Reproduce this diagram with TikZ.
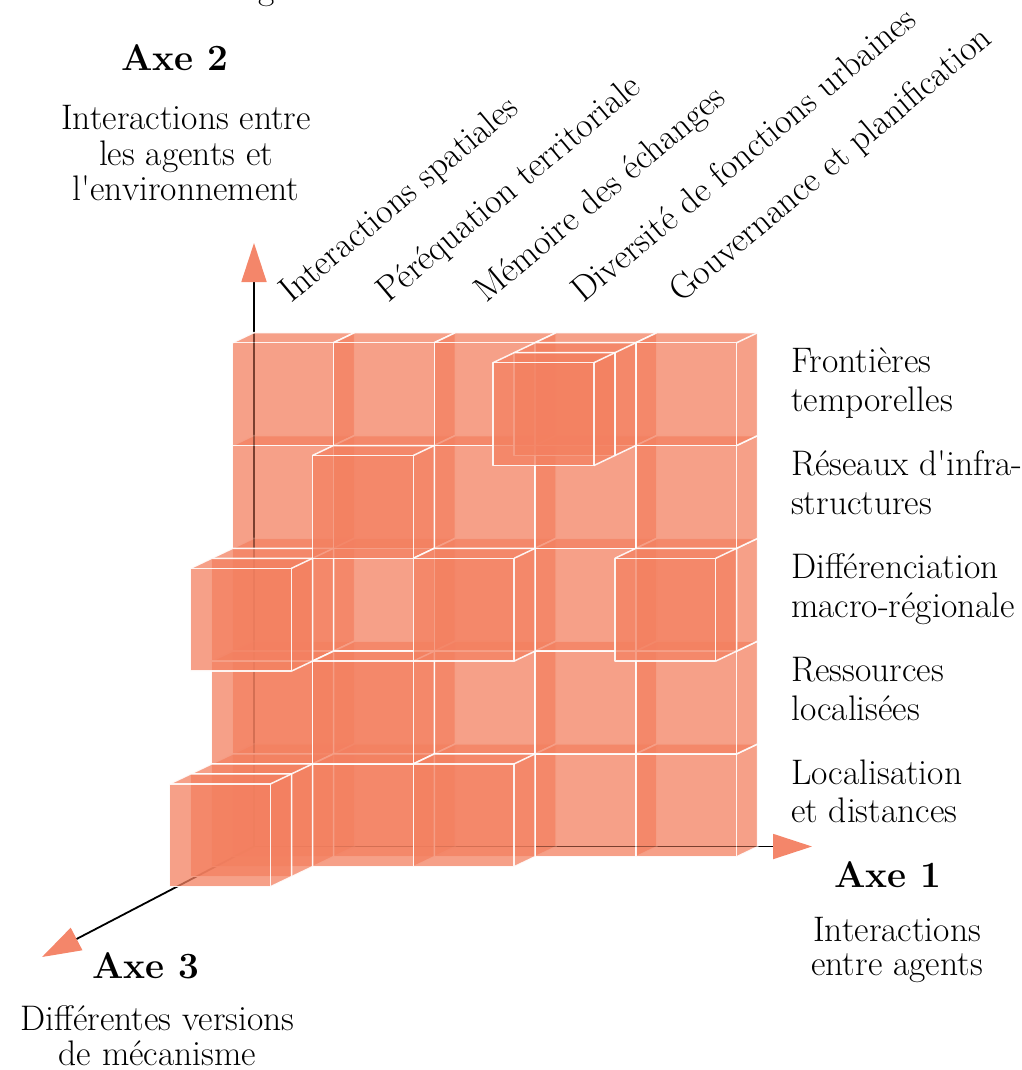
\documentclass[tikz,border=0pt]{standalone}
\usepackage{fontspec}
\usetikzlibrary{arrows.meta}
\definecolor{cubefill}{RGB}{243,128,96}
\definecolor{tipfill}{RGB}{244,134,106}
\tikzset{
  lbl/.style={inner sep=0pt, font=\fontsize{35.5}{38}\selectfont},
  axettl/.style={inner sep=0pt, font=\fontsize{37}{40}\selectfont\bfseries},
  cubebody/.style={fill=cubefill, fill opacity=0.75, draw=none},
  cubeedge/.style={draw=white, draw opacity=0.9, line width=1.5pt, line join=round},
  axisline/.style={line width=1.8pt, black, -{Triangle[length=39pt,width=25pt,color=tipfill]}},
  axisghost/.style={line width=1.8pt, black, opacity=0.33},
}
\newcommand\mycube[3]{%
  \begin{scope}[shift={({253.7+100.8*#1-21*#3},{846.7-102.8*(#2+1)+10*#3})}]
    \fill[cubebody] (0,102.8) -- (100.8,102.8) -- (121.8,92.8) -- (121.8,-10) -- (21,-10) -- (0,0) -- cycle;
    \draw[cubeedge] (0,0) rectangle (100.8,102.8);
    \draw[cubeedge] (0,0) -- (21,-10) -- (121.8,-10) -- (121.8,92.8) -- (100.8,102.8);
    \draw[cubeedge] (100.8,0) -- (121.8,-10);
  \end{scope}}
\begin{document}
\begin{tikzpicture}[x=1pt,y=-1pt]
\useasboundingbox (0,0) rectangle (1021,1070);
% axes
\coordinate (O) at (254,846.5);
\coordinate (E1) at (812,846.5);
\coordinate (E2) at (254,243);
\coordinate (E3) at (42,957);
\coordinate (G1) at (758,846.5);
\coordinate (G2) at (254,333.5);
\draw[axisline] (O) -- (E1);
\draw[axisline] (O) -- (E2);
\draw[axisline] (O) -- (E3);
% back layer of cubes
\foreach \cx/\cy in {
  0/0,0/1,0/2,0/3,0/4,
  1/0,1/1,1/2,1/3,1/4,
  2/0,2/1,2/2,2/3,2/4,
  3/0,3/1,3/2,3/3,3/4,
  4/0,4/1,4/2,4/3,4/4}{\mycube{\cx}{\cy}{1}}
% axes seen through the front faces of the back layer
\draw[axisghost] (O) -- (G1);
\draw[axisghost] (O) -- (G2);
% protruding cubes, back to front
\foreach \cx/\cy/\ck in {
  0/0/2,0/1/2,0/2/2,1/0/2,1/1/2,1/3/2,2/0/2,2/2/2,3/4/2,4/2/2,
  0/0/3,0/2/3,3/4/3,
  0/0/4}{\mycube{\cx}{\cy}{\ck}}
% cut-off letter at top
\node[lbl, anchor=base] (gtop) at (267,0) {g};
% Axe 2
\node[axettl, anchor=base] (ax2) at (175,70.7) {Axe 2};
\node[lbl, anchor=base] (ax2a) at (186,130) {Interactions entre};
\node[lbl, anchor=base] (ax2b) at (186,165) {les agents et};
\node[lbl, anchor=base] (ax2c) at (186,200) {l\textquotesingle environnement};
% column labels
\node[lbl, anchor=base west, rotate=40] (c1) at (291,304) {Interactions spatiales};
\node[lbl, anchor=base west, rotate=40] (c2) at (388.5,304) {Péréquation territoriale};
\node[lbl, anchor=base west, rotate=40] (c3) at (486,304) {Mémoire des échanges};
\node[lbl, anchor=base west, rotate=40] (c4) at (583.5,304) {Diversité de fonctions urbaines};
\node[lbl, anchor=base west, rotate=40] (c5) at (681,304) {Gouvernance et planification};
% row labels
\node[lbl, anchor=base west] (r5a) at (791,372) {Frontières};
\node[lbl, anchor=base west] (r5b) at (791,411) {temporelles};
\node[lbl, anchor=base west] (r4a) at (791,475) {Réseaux d\textquotesingle infra-};
\node[lbl, anchor=base west] (r4b) at (791,514) {structures};
\node[lbl, anchor=base west] (r3a) at (791,578) {Différenciation};
\node[lbl, anchor=base west] (r3b) at (791,617) {macro-régionale};
\node[lbl, anchor=base west] (r2a) at (791,681) {Ressources};
\node[lbl, anchor=base west] (r2b) at (791,720) {localisées};
\node[lbl, anchor=base west] (r1a) at (791,784) {Localisation};
\node[lbl, anchor=base west] (r1b) at (791,822) {et distances};
% Axe 1
\node[axettl, anchor=base] (ax1) at (888,887) {Axe 1};
\node[lbl, anchor=base] (ax1a) at (897,941) {Interactions};
\node[lbl, anchor=base] (ax1b) at (897,975) {entre agents};
% Axe 3
\node[axettl, anchor=base] (ax3) at (146,978) {Axe 3};
\node[lbl, anchor=base] (ax3a) at (157.5,1030) {Différentes versions};
\node[lbl, anchor=base] (ax3b) at (157.5,1065) {de mécanisme};
\end{tikzpicture}
\end{document}
